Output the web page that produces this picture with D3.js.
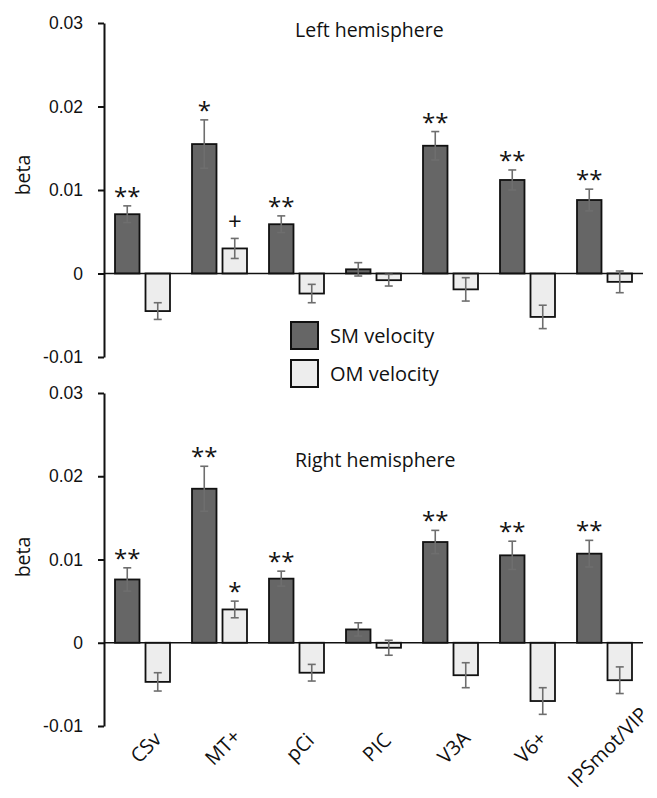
<!DOCTYPE html>
<html>
<head>
<meta charset="utf-8">
<script src="https://cdn.jsdelivr.net/npm/d3@7"></script>
<style>
  body { margin: 0; background: #fff; }
  svg { display: block; font-family: "Open Sans", sans-serif; }
  .axis text { font-size: 17.5px; fill: #111; }
</style>
</head>
<body>
<div id="chart"></div>
<script>
const width = 657
const height = 798

// regions of interest
const categories = ['CSv', 'MT+', 'pCi', 'PIC', 'V3A', 'V6+', 'IPSmot/VIP']
const series = ['SM velocity', 'OM velocity']
const yTicks = [-0.01, 0, 0.01, 0.02, 0.03]
const yTickLabels = ['-0.01', '0', '0.01', '0.02', '0.03']

// left hemisphere
const leftSM = [0.0071, 0.0155, 0.0059, 0.0005, 0.0153, 0.0112, 0.0088]
const leftSMErr = [0.0010, 0.0029, 0.0010, 0.0008, 0.0017, 0.0012, 0.0013]
const leftOM = [-0.0045, 0.0030, -0.0024, -0.0008, -0.0019, -0.0052, -0.0010]
const leftOMErr = [0.0010, 0.0012, 0.0011, 0.0007, 0.0014, 0.0014, 0.0013]
const leftSMSig = ['**', '*', '**', '', '**', '**', '**']
const leftOMSig = ['', '+', '', '', '', '', '']

// right hemisphere
const rightSM = [0.0076, 0.0185, 0.0077, 0.0016, 0.0121, 0.0105, 0.0107]
const rightSMErr = [0.0014, 0.0027, 0.0009, 0.0008, 0.0014, 0.0017, 0.0016]
const rightOM = [-0.0047, 0.0040, -0.0036, -0.0006, -0.0039, -0.0070, -0.0045]
const rightOMErr = [0.0011, 0.0010, 0.0010, 0.0009, 0.0015, 0.0016, 0.0016]
const rightSMSig = ['**', '**', '**', '', '**', '**', '**']
const rightOMSig = ['', '*', '', '', '', '', '']

const fills = ['#666666', '#ededed']

const svg = d3.select('#chart').append('svg')
  .attr('width', width)
  .attr('height', height)

const x = d3.scaleBand().domain(categories).range([104, 643]).padding(0)
const x1 = d3.scaleBand().domain(series).range([0, x.bandwidth()])
  .paddingInner(0.197).paddingOuter(0.361)

function panel (opts) {
  const y = d3.scaleLinear().domain([-0.01, 0.03]).range([opts.bottom, opts.top])
  const g = svg.append('g')

  const rows = categories.map((c, i) => [
    {cat: c, s: series[0], v: opts.sm[i], e: opts.smErr[i], sig: opts.smSig[i]},
    {cat: c, s: series[1], v: opts.om[i], e: opts.omErr[i], sig: opts.omSig[i]}
  ]).flat()

  // bars
  g.selectAll('.bar')
    .data(rows)
    .enter().append('rect')
    .attr('class', 'bar')
    .attr('x', d => x(d.cat) + x1(d.s))
    .attr('width', x1.bandwidth())
    .attr('y', d => y(Math.max(0, d.v)))
    .attr('height', d => Math.abs(y(d.v) - y(0)))
    .attr('fill', d => fills[series.indexOf(d.s)])
    .attr('stroke', '#111')
    .attr('stroke-width', 1.8)

  // zero line
  g.append('line')
    .attr('x1', 104).attr('x2', 643)
    .attr('y1', y(0)).attr('y2', y(0))
    .attr('stroke', '#111').attr('stroke-width', 1.6)

  // error bars
  const eb = g.selectAll('.err')
    .data(rows)
    .enter().append('g')
    .attr('class', 'err')
    .attr('stroke', '#6e6e6e')
    .attr('stroke-width', 1.6)
  const cx = d => x(d.cat) + x1(d.s) + x1.bandwidth() / 2
  eb.append('line')
    .attr('x1', cx).attr('x2', cx)
    .attr('y1', d => y(d.v + d.e)).attr('y2', d => y(d.v - d.e))
  eb.append('line')
    .attr('x1', d => cx(d) - 4).attr('x2', d => cx(d) + 4)
    .attr('y1', d => y(d.v + d.e)).attr('y2', d => y(d.v + d.e))
  eb.append('line')
    .attr('x1', d => cx(d) - 4).attr('x2', d => cx(d) + 4)
    .attr('y1', d => y(d.v - d.e)).attr('y2', d => y(d.v - d.e))

  // significance markers
  g.selectAll('.sig')
    .data(rows.filter(d => d.sig))
    .enter().append('text')
    .attr('class', 'sig')
    .attr('x', cx)
    .attr('y', d => y(d.v + d.e) - (d.sig === '+' ? 8 : 1))
    .attr('text-anchor', 'middle')
    .attr('font-size', 24)
    .attr('fill', '#111')
    .text(d => d.sig)

  // y axis
  const axis = g.append('g')
    .attr('class', 'axis')
    .attr('transform', 'translate(104,0)')
    .call(d3.axisLeft(y)
      .tickValues(yTicks)
      .tickFormat((d, i) => yTickLabels[i])
      .tickSize(6)
      .tickSizeOuter(0)
      .tickPadding(15))
  axis.select('.domain').attr('stroke', '#111').attr('stroke-width', 2)
  axis.selectAll('.tick line').attr('stroke', '#111').attr('stroke-width', 2)

  g.append('text')
    .attr('transform', 'translate(22,' + opts.betaY + ') rotate(-90)')
    .attr('text-anchor', 'middle')
    .attr('dominant-baseline', 'central')
    .attr('font-size', 19.5)
    .attr('fill', '#111')
    .text('beta')

  g.append('text')
    .attr('x', 295)
    .attr('y', opts.titleY)
    .attr('font-size', 19.5)
    .attr('fill', '#111')
    .text(opts.title)
}

panel({
  top: 23, bottom: 357, betaY: 175, titleY: 37, title: 'Left hemisphere',
  sm: leftSM, smErr: leftSMErr, om: leftOM, omErr: leftOMErr, smSig: leftSMSig, omSig: leftOMSig
})

panel({
  top: 393, bottom: 726, betaY: 557, titleY: 467, title: 'Right hemisphere',
  sm: rightSM, smErr: rightSMErr, om: rightOM, omErr: rightOMErr, smSig: rightSMSig, omSig: rightOMSig
})

// category labels
svg.selectAll('.xlab')
  .data(categories)
  .enter().append('text')
  .attr('class', 'xlab')
  .attr('transform', d => 'translate(' + (x(d) + x.bandwidth() / 2 + 3) + ',747) rotate(-45)')
  .attr('text-anchor', 'middle')
  .attr('dominant-baseline', 'central')
  .attr('font-size', 20)
  .attr('fill', '#111')
  .text(d => d)

// legend
const legend = svg.selectAll('.legend')
  .data(series)
  .enter().append('g')
  .attr('class', 'legend')
  .attr('transform', (d, i) => 'translate(291,' + (322 + i * 38) + ')')
legend.append('rect')
  .attr('width', 27).attr('height', 27)
  .attr('fill', (d, i) => fills[i])
  .attr('stroke', '#111').attr('stroke-width', 2)
legend.append('text')
  .attr('x', 39).attr('y', 13)
  .attr('dominant-baseline', 'central')
  .attr('font-size', 20)
  .attr('fill', '#111')
  .text(d => d)
</script>
</body>
</html>
